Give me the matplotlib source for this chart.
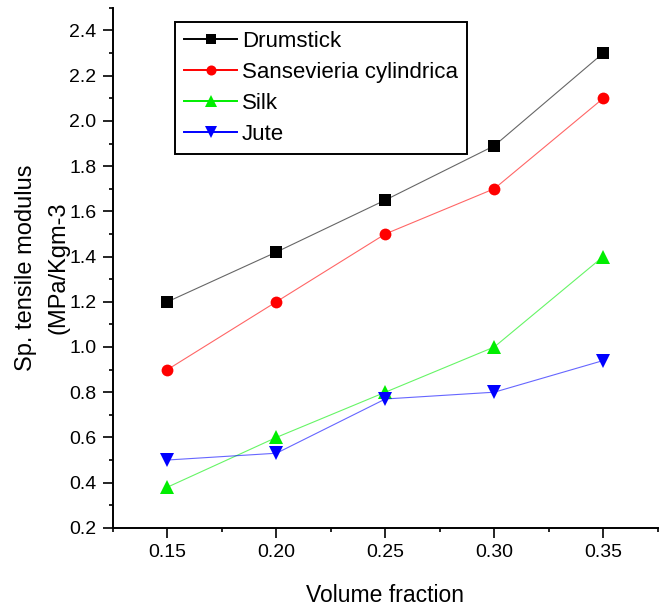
import matplotlib
matplotlib.use("Agg")
import matplotlib.pyplot as plt
from matplotlib.lines import Line2D
from matplotlib.ticker import MultipleLocator, FormatStrFormatter

plt.rcParams['font.family'] = ['Liberation Sans', 'DejaVu Sans']

volume = [0.15, 0.20, 0.25, 0.30, 0.35]
drumstick = [1.20, 1.42, 1.65, 1.89, 2.30]
sansevieria = [0.90, 1.20, 1.50, 1.70, 2.10]
silk = [0.38, 0.60, 0.80, 1.00, 1.40]
jute = [0.50, 0.53, 0.77, 0.80, 0.94]

names = ["Drumstick", "Sansevieria cylindrica", "Silk", "Jute"]
colors = ["black", "red", "#00ee00", "blue"]
markers = ["s", "o", "^", "v"]
msizes = [8.5, 8.5, 10, 10]
series = [drumstick, sansevieria, silk, jute]

fig = plt.figure(figsize=(6.61, 6.06), dpi=100)
ax = fig.add_axes([0.171, 0.129, 0.824, 0.858])

for y, c, m, ms in zip(series, colors, markers, msizes):
    ax.plot(volume, y, color=c, lw=0.8, alpha=0.6)
    ax.plot(volume, y, linestyle='none', marker=m, markersize=ms,
            markerfacecolor=c, markeredgecolor=c, markeredgewidth=0)

ax.set_xlim(0.125, 0.375)
ax.set_ylim(0.2, 2.5)
ax.xaxis.set_major_locator(MultipleLocator(0.05))
ax.xaxis.set_minor_locator(MultipleLocator(0.025))
ax.yaxis.set_major_locator(MultipleLocator(0.2))
ax.yaxis.set_minor_locator(MultipleLocator(0.1))
ax.xaxis.set_major_formatter(FormatStrFormatter('%.2f'))
ax.yaxis.set_major_formatter(FormatStrFormatter('%.1f'))
ax.spines['top'].set_visible(False)
ax.spines['right'].set_visible(False)
for s in ['left', 'bottom']:
    ax.spines[s].set_linewidth(1.4)
ax.tick_params(which='major', direction='out', length=7, width=1.2, labelsize=14, pad=5)
ax.tick_params(which='minor', direction='out', length=3, width=1.2)

ax.set_xlabel("Volume fraction", fontsize=16.5, labelpad=16)
ax.set_ylabel("Sp. tensile modulus\n(MPa/Kgm-3", fontsize=17, linespacing=1.6, labelpad=0)

handles = [Line2D([], [], color=c, lw=1.4, marker=m, markersize=ms * 0.85,
                  markeredgewidth=0) for c, m, ms in zip(colors, markers, msizes)]
leg = ax.legend(handles, names, loc='upper left', bbox_to_anchor=(0.114, 0.973),
                borderaxespad=0, fontsize=16, handlelength=2.4, handletextpad=0.2,
                labelspacing=0.45, borderpad=0.4, fancybox=False, framealpha=1)
leg.get_frame().set_edgecolor('black')
leg.get_frame().set_linewidth(1.4)

fig.savefig("out.png", dpi=100)
